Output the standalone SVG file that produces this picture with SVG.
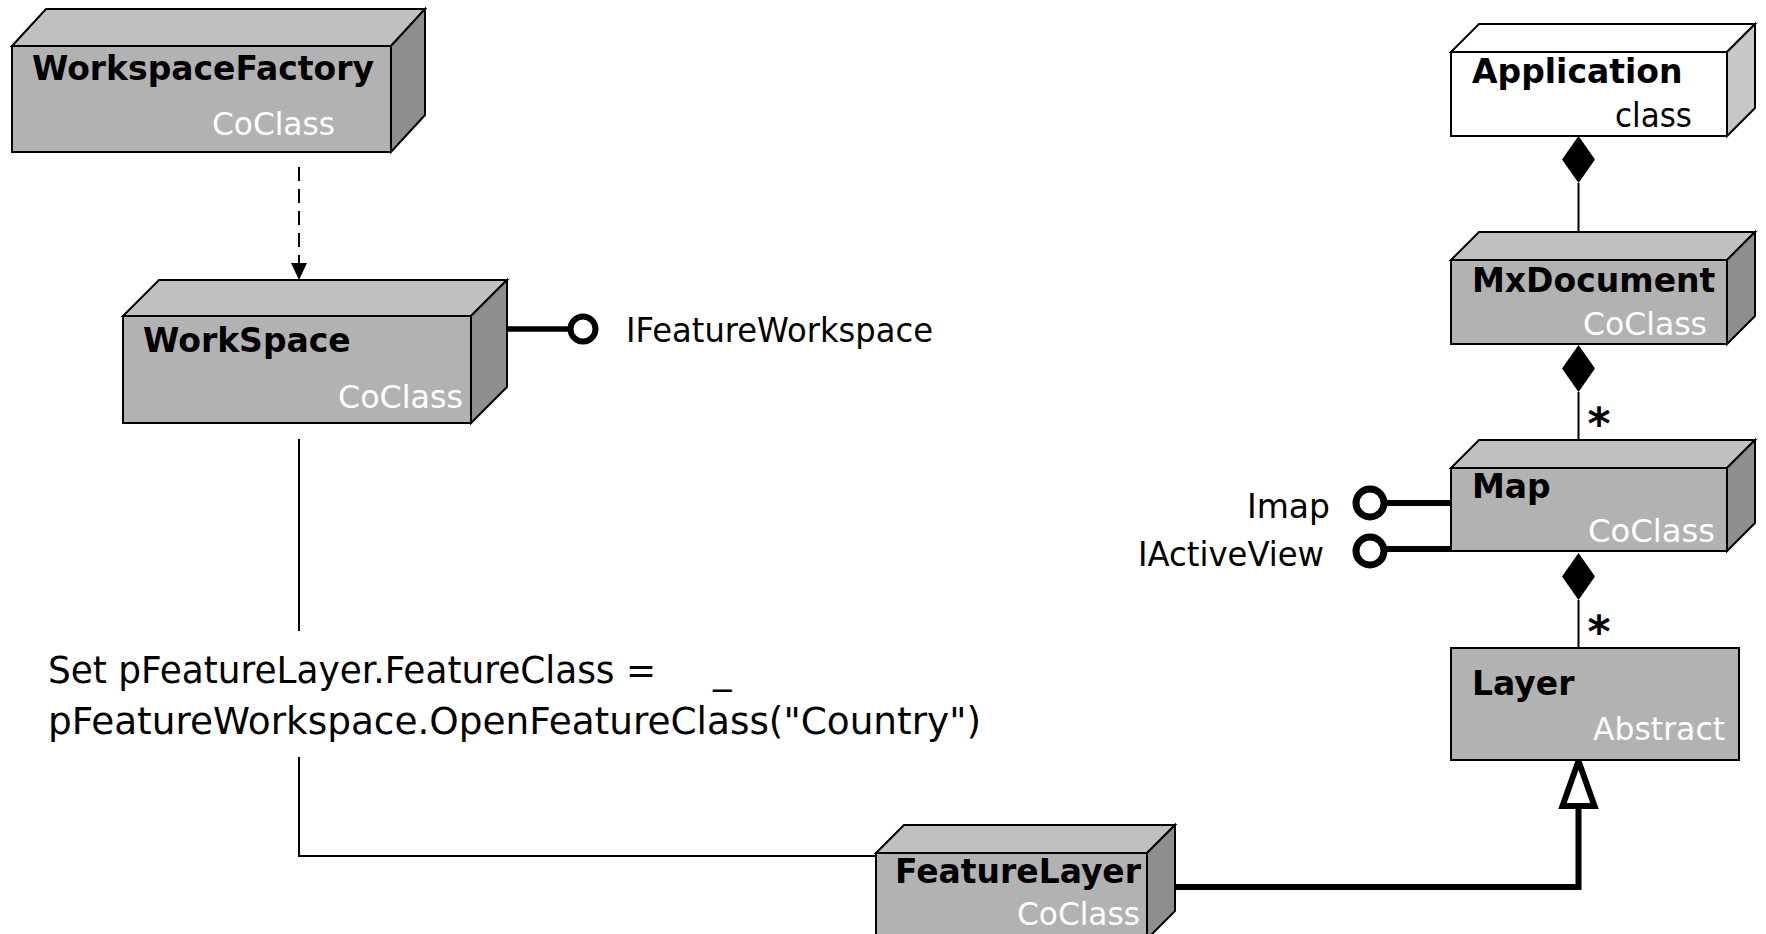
<svg xmlns="http://www.w3.org/2000/svg" width="1766" height="934" viewBox="0 0 1766 934">
  <style>
    .front { fill: #b2b2b2; stroke: #000; stroke-width: 2; }
    .top { fill: #c0c0c0; stroke: #000; stroke-width: 2; stroke-linejoin: miter; }
    .side { fill: #8e8e8e; stroke: #000; stroke-width: 2; stroke-linejoin: miter; }
    .plain { fill: #fff; stroke: #000; stroke-width: 2; }
    .plainside { fill: #c8c8c8; stroke: #000; stroke-width: 2; }
    .name { font-family: "DejaVu Sans", Verdana, sans-serif; font-weight: bold; font-size: 33px; fill: #000; }
    .kind { font-family: "DejaVu Sans", Verdana, sans-serif; font-size: 32px; fill: #fff; }
    .label { font-family: "DejaVu Sans", Verdana, sans-serif; font-size: 33px; fill: #000; }
    .code { font-family: "DejaVu Sans", Verdana, sans-serif; font-size: 37px; fill: #000; }
    .thin { fill: none; stroke: #000; stroke-width: 2; }
    .thick { fill: none; stroke: #000; stroke-width: 6; }
    .lolly { fill: #fff; stroke: #000; }
    .star { font-family: "DejaVu Sans", sans-serif; font-weight: bold; font-size: 44px; fill: #000; }
  </style>

  <!-- connectors -->
  <g id="connectors">
    <!-- dependency: WorkspaceFactory creates WorkSpace -->
    <line x1="299" y1="167" x2="299" y2="263" class="thin" stroke-dasharray="14 8"/>
    <path d="M291,263 L307,263 L299,280 Z" fill="#000"/>
    <!-- WorkSpace to FeatureLayer (interrupted by the code text) -->
    <line x1="299" y1="439" x2="299" y2="631" class="thin"/>
    <polyline points="299,757 299,856 876,856" class="thin"/>
    <!-- IFeatureWorkspace interface -->
    <line x1="507" y1="329" x2="571" y2="329" stroke="#000" stroke-width="5.5"/>
    <circle cx="583" cy="329" r="12.5" class="lolly" stroke-width="6"/>
    <!-- Map interfaces -->
    <line x1="1384" y1="503" x2="1451" y2="503" stroke="#000" stroke-width="6"/>
    <circle cx="1370" cy="503" r="14" class="lolly" stroke-width="7"/>
    <line x1="1384" y1="549" x2="1451" y2="549" stroke="#000" stroke-width="6"/>
    <circle cx="1370" cy="551" r="14" class="lolly" stroke-width="7"/>
    <!-- composition: Application - MxDocument -->
    <line x1="1578.5" y1="183" x2="1578.5" y2="232" class="thin"/>
    <path d="M1578.5,136 L1595,159.5 L1578.5,183 L1562,159.5 Z" fill="#000"/>
    <!-- composition: MxDocument - Map -->
    <line x1="1578.5" y1="392" x2="1578.5" y2="440" class="thin"/>
    <path d="M1578.5,345 L1595,368.5 L1578.5,392 L1562,368.5 Z" fill="#000"/>
    <text x="1599" y="439" class="star" text-anchor="middle">*</text>
    <!-- composition: Map - Layer -->
    <line x1="1578.5" y1="600" x2="1578.5" y2="648" class="thin"/>
    <path d="M1578.5,553 L1595,576.5 L1578.5,600 L1562,576.5 Z" fill="#000"/>
    <text x="1599" y="647" class="star" text-anchor="middle">*</text>
    <!-- inheritance: FeatureLayer is a Layer -->
    <polyline points="1175,887 1578.5,887 1578.5,806" class="thick" stroke-linejoin="miter"/>
    <path d="M1578.5,761 L1594.5,806 L1562.5,806 Z" fill="#fff" stroke="#000" stroke-width="6" stroke-miterlimit="10"/>
  </g>

  <!-- WorkspaceFactory -->
  <g id="workspace-factory">
    <path d="M12,46 L46,9 L425,9 L391,46 Z" class="top"/>
    <path d="M391,46 L425,9 L425,115 L391,152 Z" class="side"/>
    <rect x="12" y="46" width="379" height="106" class="front"/>
    <text x="32" y="80" class="name" textLength="342" lengthAdjust="spacingAndGlyphs">WorkspaceFactory</text>
    <text x="212" y="135" class="kind" textLength="123" lengthAdjust="spacingAndGlyphs">CoClass</text>
  </g>

  <!-- WorkSpace -->
  <g id="workspace">
    <path d="M123,316 L159,280 L507,280 L471,316 Z" class="top"/>
    <path d="M471,316 L507,280 L507,387 L471,423 Z" class="side"/>
    <rect x="123" y="316" width="348" height="107" class="front"/>
    <text x="143" y="352" class="name">WorkSpace</text>
    <text x="338" y="408" class="kind" textLength="125" lengthAdjust="spacingAndGlyphs">CoClass</text>
  </g>
  <text id="ifeatureworkspace-label" x="626" y="342" class="label" textLength="307" lengthAdjust="spacingAndGlyphs">IFeatureWorkspace</text>

  <!-- code fragment -->
  <g id="code">
    <text x="48" y="683" class="code"><tspan textLength="608" lengthAdjust="spacingAndGlyphs">Set pFeatureLayer.FeatureClass =</tspan><tspan x="713">_</tspan></text>
    <text x="48" y="734" class="code" textLength="933" lengthAdjust="spacingAndGlyphs">pFeatureWorkspace.OpenFeatureClass("Country")</text>
  </g>

  <!-- Application -->
  <g id="application">
    <path d="M1451,52 L1479,24 L1755,24 L1727,52 Z" class="plain"/>
    <path d="M1727,52 L1755,24 L1755,108 L1727,136 Z" class="plainside"/>
    <rect x="1451" y="52" width="276" height="84" class="plain"/>
    <text x="1472" y="83" class="name">Application</text>
    <text x="1615" y="127" class="label" textLength="77" lengthAdjust="spacingAndGlyphs">class</text>
  </g>

  <!-- MxDocument -->
  <g id="mxdocument">
    <path d="M1451,260 L1479,232 L1755,232 L1727,260 Z" class="top"/>
    <path d="M1727,260 L1755,232 L1755,316 L1727,344 Z" class="side"/>
    <rect x="1451" y="260" width="276" height="84" class="front"/>
    <text x="1472" y="292" class="name">MxDocument</text>
    <text x="1583" y="335" class="kind" textLength="124" lengthAdjust="spacingAndGlyphs">CoClass</text>
  </g>

  <!-- Map -->
  <g id="map">
    <path d="M1451,468 L1479,440 L1755,440 L1727,468 Z" class="top"/>
    <path d="M1727,468 L1755,440 L1755,523 L1727,551 Z" class="side"/>
    <rect x="1451" y="468" width="276" height="83" class="front"/>
    <text x="1472" y="498" class="name">Map</text>
    <text x="1588" y="542" class="kind" textLength="127" lengthAdjust="spacingAndGlyphs">CoClass</text>
  </g>
  <text id="imap-label" x="1330" y="518" class="label" text-anchor="end">Imap</text>
  <text id="iactiveview-label" x="1324" y="566" class="label" text-anchor="end" textLength="186" lengthAdjust="spacingAndGlyphs">IActiveView</text>

  <!-- Layer -->
  <g id="layer">
    <rect x="1451" y="648" width="288" height="112" class="front"/>
    <text x="1472" y="695" class="name">Layer</text>
    <text x="1593" y="740" class="kind" textLength="132" lengthAdjust="spacingAndGlyphs">Abstract</text>
  </g>

  <!-- FeatureLayer -->
  <g id="featurelayer">
    <path d="M876,853 L904,825 L1175,825 L1147,853 Z" class="top"/>
    <path d="M1147,853 L1175,825 L1175,911 L1147,939 Z" class="side"/>
    <rect x="876" y="853" width="271" height="86" class="front"/>
    <text x="895" y="883" class="name" textLength="246" lengthAdjust="spacingAndGlyphs">FeatureLayer</text>
    <text x="1017" y="925" class="kind" textLength="123" lengthAdjust="spacingAndGlyphs">CoClass</text>
  </g>
</svg>
